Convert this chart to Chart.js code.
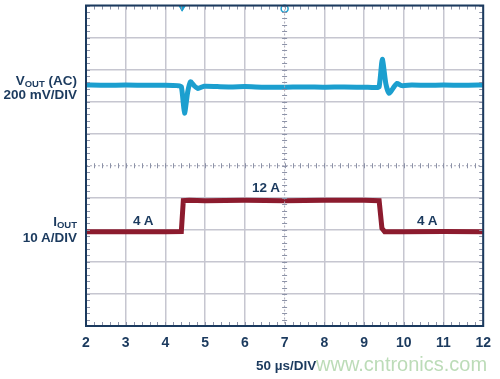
<!DOCTYPE html>
<html>
<head>
<meta charset="utf-8">
<script src="https://cdn.jsdelivr.net/npm/chart.js@4/dist/chart.umd.min.js"></script>
<style>
  html, body { margin: 0; padding: 0; background: #ffffff; }
  #wrap { position: relative; width: 500px; height: 379px; overflow: hidden; }
  canvas { position: absolute; left: 0; top: 0; }
  .lbl { position: absolute; font-family: "Liberation Sans", Arial, Helvetica, sans-serif; font-weight: bold; color: #1b3a5e; font-size: 13.5px; white-space: nowrap; line-height: 14px; }
  .r { text-align: right; }
  .sub { font-size: 9.5px; position: relative; top: 2px; }
  .wm { position: absolute; font-family: "Liberation Sans", Arial, sans-serif; font-size: 20px; color: #bcdcb8; white-space: nowrap; line-height: 20px; }
</style>
</head>
<body>
<div id="wrap">
  <canvas id="c" width="500" height="379"></canvas>
  <div class="lbl r" style="right:423px; top:74px;">V<span class="sub">OUT</span> (AC)</div>
  <div class="lbl r" style="right:423px; top:88px;">200 mV/DIV</div>
  <div class="lbl r" style="right:423px; top:215px;">I<span class="sub">OUT</span></div>
  <div class="lbl r" style="right:423px; top:231px;">10 A/DIV</div>
  <div class="lbl" style="left:133px; top:214px;">4 A</div>
  <div class="lbl" style="left:252px; top:181px;">12 A</div>
  <div class="lbl" style="left:417px; top:214px;">4 A</div>
  <div class="lbl" style="left:256px; top:359px;">50 µs/DIV</div>
  <div class="wm" style="left:316px; top:354px;">www.cntronics.com</div>
</div>
<script>
// Time axis (divisions, tick labels 2..12)
const xTicks = [2, 3, 4, 5, 6, 7, 8, 9, 10, 11, 12];

// VOUT (AC) trace, vertical position in screen divisions (0 = bottom, 10 = top)
const timeV = [2.0, 2.5, 3.0, 3.5, 4.0, 4.3, 4.40, 4.48, 4.56, 4.63, 4.72, 4.82, 4.97, 5.3, 5.7, 6.0, 6.5, 7.0, 7.5, 8.0, 8.5, 9.0, 9.3, 9.38, 9.46, 9.55, 9.63, 9.73, 9.83, 9.95, 10.2, 10.6, 11.0, 11.5, 12.0];
const vout  = [7.52, 7.51, 7.52, 7.51, 7.51, 7.50, 7.47, 6.64, 7.30, 7.62, 7.50, 7.41, 7.48, 7.47, 7.46, 7.47, 7.45, 7.45, 7.46, 7.45, 7.46, 7.45, 7.44, 7.47, 8.32, 7.55, 7.26, 7.42, 7.57, 7.50, 7.52, 7.51, 7.52, 7.51, 7.52];

// IOUT trace, vertical position in screen divisions
const timeI = [2.0, 3.0, 4.0, 4.40, 4.45, 4.6, 5.0, 6.0, 7.0, 8.0, 9.0, 9.38, 9.45, 9.52, 10.0, 11.0, 12.0];
const iout  = [2.94, 2.94, 2.94, 2.95, 3.91, 3.92, 3.91, 3.92, 3.91, 3.92, 3.92, 3.91, 3.05, 2.94, 2.94, 2.95, 2.94];

// Trigger markers along the top edge
const markerTimes = [4.42, 7.0];
const markerPos   = [9.93, 9.90];

const navy = '#1b3a5e';
const cyan = '#1c9fcf';
const maroon = '#8c1b2e';
const gridCol = '#c6c6d0';

const toPts = (xs, ys) => xs.map((x, i) => ({ x: x, y: ys[i] }));

const decor = {
  id: 'decor',
  afterDatasetsDraw(chart) {
    const { ctx, chartArea: a, scales: { x, y } } = chart;
    ctx.save();
    // center dotted lines
    ctx.strokeStyle = '#a9a9b8';
    ctx.lineWidth = 1;
    ctx.setLineDash([2, 2]);
    const cx = x.getPixelForValue(7), cy = y.getPixelForValue(5);
    ctx.beginPath();
    ctx.moveTo(cx, a.top); ctx.lineTo(cx, a.bottom);
    ctx.moveTo(a.left, cy); ctx.lineTo(a.right, cy);
    ctx.stroke();
    ctx.setLineDash([]);
    // minor ticks
    ctx.strokeStyle = '#8d93a8';
    ctx.lineWidth = 1;
    ctx.beginPath();
    for (let v = 2; v <= 12.001; v += 0.2) {
      const px = Math.round(x.getPixelForValue(v)) + 0.5;
      ctx.moveTo(px, a.bottom); ctx.lineTo(px, a.bottom - 4);
      ctx.moveTo(px, a.top); ctx.lineTo(px, a.top + 4);
      ctx.moveTo(px, cy - 2.5); ctx.lineTo(px, cy + 2.5);
    }
    for (let v = 0; v <= 10.001; v += 0.2) {
      const py = Math.round(y.getPixelForValue(v)) + 0.5;
      ctx.moveTo(a.left, py); ctx.lineTo(a.left + 4, py);
      ctx.moveTo(a.right, py); ctx.lineTo(a.right - 4, py);
      ctx.moveTo(cx - 2.5, py); ctx.lineTo(cx + 2.5, py);
    }
    ctx.stroke();
    // frame
    ctx.strokeStyle = navy;
    ctx.lineWidth = 2;
    ctx.strokeRect(a.left, a.top, a.right - a.left, a.bottom - a.top);
    ctx.restore();
  }
};

new Chart(document.getElementById('c'), {
  type: 'line',
  data: {
    datasets: [
      {
        label: 'VOUT',
        data: toPts(timeV, vout),
        borderColor: cyan,
        borderWidth: 5,
        pointRadius: 0,
        tension: 0.2,
        borderJoinStyle: 'round',
        borderCapStyle: 'round'
      },
      {
        label: 'IOUT',
        data: toPts(timeI, iout),
        borderColor: maroon,
        borderWidth: 5,
        pointRadius: 0,
        tension: 0,
        borderJoinStyle: 'miter'
      },
      {
        label: 'markers',
        type: 'scatter',
        data: toPts(markerTimes, markerPos),
        clip: false,
        pointStyle: ['triangle', 'circle'],
        rotation: [180, 0],
        pointRadius: [3.5, 3.5],
        backgroundColor: [cyan, '#ffffff'],
        borderColor: cyan,
        borderWidth: [1, 1.5],
        showLine: false
      }
    ]
  },
  options: {
    responsive: false,
    devicePixelRatio: 1,
    animation: false,
    events: [],
    layout: { padding: { left: 0, right: 13, top: 5, bottom: 0 } },
    plugins: { legend: { display: false }, tooltip: { enabled: false } },
    scales: {
      x: {
        type: 'linear',
        min: 2, max: 12,
        afterBuildTicks: (s) => { s.ticks = xTicks.map(v => ({ value: v })); },
        afterFit: (s) => { s.height = 53; },
        ticks: {
          color: navy,
          padding: 9,
          font: { family: '"Liberation Sans", Arial, sans-serif', size: 14, weight: 'bold' }
        },
        grid: {
          drawTicks: false,
          lineWidth: 1.5,
          color: (c) => (c.tick && c.tick.value === 7) ? 'rgba(0,0,0,0)' : gridCol
        },
        border: { display: true, color: navy, width: 2 }
      },
      y: {
        type: 'linear',
        min: 0, max: 10,
        afterFit: (s) => { s.width = 86; },
        ticks: { display: false, stepSize: 1 },
        grid: {
          drawTicks: false,
          lineWidth: 1.5,
          color: (c) => (c.tick && c.tick.value === 5) ? 'rgba(0,0,0,0)' : gridCol
        },
        border: { display: true, color: navy, width: 2 }
      }
    }
  },
  plugins: [decor]
});
</script>
</body>
</html>
